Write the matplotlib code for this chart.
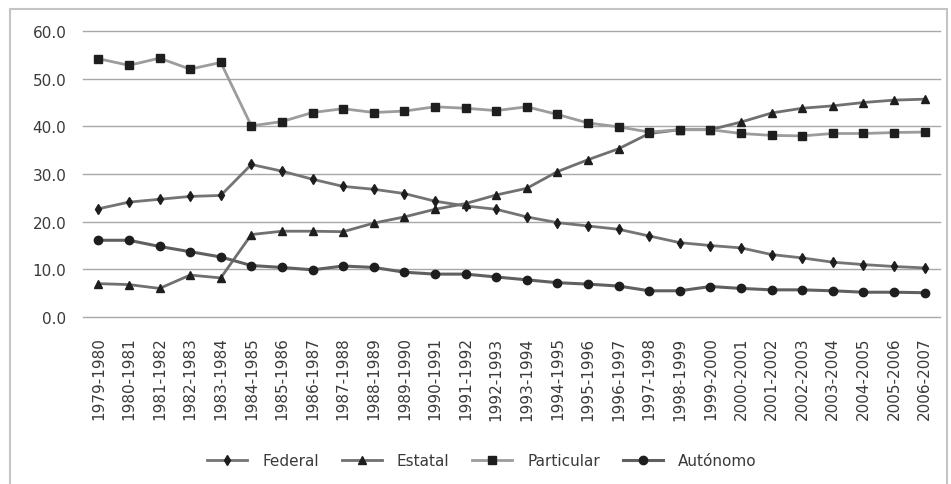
import matplotlib.pyplot as plt
from matplotlib.patches import Rectangle
from matplotlib.ticker import FormatStrFormatter

periodos = [f"{a}-{a + 1}" for a in range(1979, 2007)]

federal = [22.7, 24.1, 24.7, 25.3, 25.5, 32.0, 30.6, 28.9, 27.4, 26.8, 25.9, 24.3, 23.3,
           22.6, 21.0, 19.8, 19.1, 18.4, 17.0, 15.6, 15.0, 14.5, 13.1, 12.4, 11.5, 11.0, 10.6, 10.3]
estatal = [7.0, 6.8, 6.0, 8.8, 8.2, 17.3, 18.0, 18.0, 17.9, 19.7, 21.0, 22.6, 23.8,
           25.6, 27.0, 30.5, 33.0, 35.3, 38.5, 39.3, 39.3, 40.9, 42.8, 43.8, 44.3, 45.0, 45.5, 45.7]
particular = [54.2, 52.8, 54.3, 52.0, 53.4, 40.1, 41.0, 42.9, 43.7, 42.9, 43.2, 44.1, 43.8,
              43.3, 44.1, 42.5, 40.7, 39.9, 38.8, 39.3, 39.3, 38.5, 38.1, 38.0, 38.5, 38.5, 38.7, 38.8]
autonomo = [16.1, 16.1, 14.8, 13.7, 12.6, 10.8, 10.4, 9.9, 10.7, 10.4, 9.4, 9.0, 9.0,
            8.4, 7.8, 7.2, 6.9, 6.5, 5.5, 5.5, 6.4, 6.0, 5.7, 5.7, 5.5, 5.2, 5.2, 5.1]

fig = plt.figure(figsize=(9.51, 4.85), dpi=100)
ax = fig.add_axes([0.0873, 0.3443, 0.9011, 0.5897])

# marco exterior del grafico
fig.patches.append(Rectangle((10 / 951, -0.05), 937 / 951, 1.05 - 10 / 485,
                             transform=fig.transFigure, fill=False,
                             edgecolor="#c4c4c4", lw=1.5))

x = range(len(periodos))
mk = "#1e1e1e"
ax.plot(x, federal, color="#747474", lw=2.0, marker="d", ms=5, mfc=mk, mec=mk, label="Federal")
ax.plot(x, estatal, color="#707070", lw=2.0, marker="^", ms=6, mfc=mk, mec=mk, label="Estatal")
ax.plot(x, particular, color="#9c9c9c", lw=2.0, marker="s", ms=5.5, mfc=mk, mec=mk, label="Particular")
ax.plot(x, autonomo, color="#606060", lw=2.2, marker="o", ms=6, mfc=mk, mec=mk, label="Autónomo")

ax.set_xlim(-0.5, len(periodos) - 0.5)
ax.set_ylim(0, 60)
ax.set_yticks(range(0, 61, 10))
ax.yaxis.set_major_formatter(FormatStrFormatter("%.1f"))
ax.set_xticks(list(x))
ax.set_xticklabels(periodos, rotation=90)
ax.grid(axis="y", color="#a8a8a8", lw=1)
for gl in ax.get_ygridlines():
    gl.set_clip_on(False)
ax.set_axisbelow(True)
for s in ax.spines.values():
    s.set_visible(False)
ax.tick_params(axis="both", length=0, labelsize=11, labelcolor="#3a3a3a")
ax.tick_params(axis="y", pad=12)
ax.tick_params(axis="x", pad=14)

fig.legend(loc="center", bbox_to_anchor=(482 / 951, 1 - 462 / 485), ncol=4, frameon=False,
           fontsize=11, handlelength=2.6, handletextpad=1.0, columnspacing=1.5,
           labelcolor="#3a3a3a")

fig.savefig("out.png", dpi=100)
